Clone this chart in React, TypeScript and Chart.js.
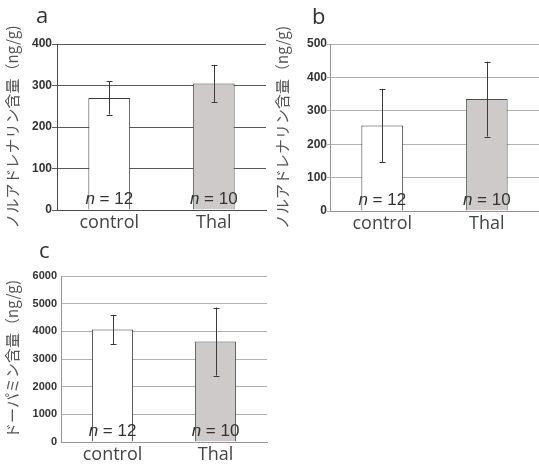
import React, { useEffect, useRef } from "react";
import { Chart, registerables } from "chart.js";
Chart.register(...registerables);

const categories = ["control", "Thal"];
const sampleSizes = ["12", "10"];

const panelAValues = [270, 305];
const panelAErrors = [40, 45];
const panelATicksMax = 400;
const panelATicksStep = 100;

const panelBValues = [256, 335];
const panelBErrors = [110, 112];
const panelBTicksMax = 500;
const panelBTicksStep = 100;

const panelCValues = [4070, 3630];
const panelCErrors = [530, 1230];
const panelCTicksMax = 6000;
const panelCTicksStep = 1000;

const titleNA = "ノルアドレナリン含量（ng/g)";
const titleDA = "ドーパミン含量（ng/g)";

const overlayPlugin = {
  id: "overlay",
  afterDatasetsDraw(chart: any, _args: any, opts: any) {
    const { ctx } = chart;
    const meta = chart.getDatasetMeta(0);
    const ys = chart.scales.y;
    const data = chart.data.datasets[0].data as number[];
    const errs: number[] = opts.errors;
    const bottom = chart.chartArea.bottom;
    meta.data.forEach((bar: any, i: number) => {
      const v = data[i];
      const top = ys.getPixelForValue(v + errs[i]);
      const bot = ys.getPixelForValue(v - errs[i]);
      const x = Math.round(bar.x) + 0.5;
      ctx.save();
      ctx.strokeStyle = "#3a3a3a";
      ctx.lineWidth = 1;
      ctx.beginPath();
      ctx.moveTo(x, top);
      ctx.lineTo(x, bot);
      ctx.moveTo(x - 3, Math.round(top) + 0.5);
      ctx.lineTo(x + 3, Math.round(top) + 0.5);
      ctx.moveTo(x - 3, Math.round(bot) + 0.5);
      ctx.lineTo(x + 3, Math.round(bot) + 0.5);
      ctx.stroke();
      // n label
      const fam = "'Liberation Sans', Arial, sans-serif";
      const italicFont = `italic 17px ${fam}`;
      const normalFont = `17px ${fam}`;
      ctx.font = italicFont;
      const w1 = ctx.measureText("n").width;
      ctx.font = normalFont;
      const rest = " = " + sampleSizes[i];
      const w2 = ctx.measureText(rest).width;
      const start = bar.x - (w1 + w2) / 2;
      ctx.fillStyle = "#333";
      ctx.textBaseline = "alphabetic";
      ctx.textAlign = "left";
      ctx.font = italicFont;
      ctx.fillText("n", start, bottom - 6);
      ctx.font = normalFont;
      ctx.fillText(rest, start + w1, bottom - 6);
      ctx.restore();
    });
  },
};

type PanelProps = {
  left: number;
  top: number;
  width: number;
  height: number;
  values: number[];
  errors: number[];
  max: number;
  step: number;
  title: string;
  yWidth: number;
  xHeight: number;
  padTop: number;
  padRight: number;
  gridColor: string;
  axisColor: string;
  tickLength: number;
  tickPadding: number;
  tickFontSize: number;
};

function Panel(p: PanelProps) {
  const ref = useRef<HTMLCanvasElement>(null);
  useEffect(() => {
    if (!ref.current) return;
    const chart = new Chart(ref.current, {
      type: "bar",
      data: {
        labels: categories,
        datasets: [
          {
            data: p.values,
            backgroundColor: ["#ffffff", "#cfcaca"],
            borderColor: ["#3a3a3a", "#4a4a4a"],
            borderWidth: 1,
            categoryPercentage: 1,
            barPercentage: 0.4,
          },
        ],
      },
      options: {
        responsive: false,
        animation: false,
        layout: { padding: { top: p.padTop, right: p.padRight, left: 0, bottom: 0 } },
        plugins: {
          legend: { display: false },
          tooltip: { enabled: false },
          overlay: { errors: p.errors },
        } as any,
        scales: {
          x: {
            grid: { display: false, drawTicks: false },
            border: { display: true, color: p.axisColor, width: 1 },
            ticks: {
              color: "#444",
              font: { family: "'Open Sans', sans-serif", size: 18 },
              padding: 2,
            },
            afterFit: (s: any) => {
              s.height = p.xHeight;
            },
          },
          y: {
            min: 0,
            max: p.max,
            grid: {
              color: p.gridColor,
              lineWidth: 1,
              drawTicks: p.tickLength > 0,
              tickLength: p.tickLength,
            },
            border: { display: true, color: p.axisColor, width: 1 },
            ticks: {
              stepSize: p.step,
              color: "#333",
              padding: p.tickPadding,
              font: { family: "'Liberation Sans', Arial, sans-serif", size: p.tickFontSize, weight: "bold" },
              callback: (v: any) => String(v),
            },
            title: {
              display: true,
              text: p.title,
              color: "#555",
              font: { family: "'Noto Sans CJK JP', sans-serif", size: 15 },
              padding: { top: 3, bottom: 0 },
            },
            afterFit: (s: any) => {
              s.width = p.yWidth;
            },
          },
        },
      },
      plugins: [overlayPlugin],
    });
    return () => chart.destroy();
  }, []);
  return (
    <canvas
      ref={ref}
      width={p.width}
      height={p.height}
      style={{ position: "absolute", left: p.left, top: p.top, display: "block" }}
    />
  );
}

const letterStyle: React.CSSProperties = {
  position: "absolute",
  fontFamily: "'Open Sans', sans-serif",
  fontSize: 22,
  lineHeight: "22px",
  color: "#333",
};

export default function App() {
  return (
    <div style={{ position: "absolute", left: 0, top: 0, width: 539, height: 467, background: "#fff" }}>
      <Panel
        left={0}
        top={0}
        width={270}
        height={240}
        values={panelAValues}
        errors={panelAErrors}
        max={panelATicksMax}
        step={panelATicksStep}
        title={titleNA}
        yWidth={57}
        xHeight={30}
        padTop={44}
        padRight={4}
        gridColor="#5a5a5a"
        axisColor="#4a4a4a"
        tickLength={5}
        tickPadding={0}
        tickFontSize={12}
      />
      <Panel
        left={270}
        top={0}
        width={269}
        height={240}
        values={panelBValues}
        errors={panelBErrors}
        max={panelBTicksMax}
        step={panelBTicksStep}
        title={titleNA}
        yWidth={60}
        xHeight={29}
        padTop={44}
        padRight={0}
        gridColor="#b5b0b0"
        axisColor="#9a9595"
        tickLength={3}
        tickPadding={0}
        tickFontSize={12}
      />
      <Panel
        left={0}
        top={240}
        width={270}
        height={227}
        values={panelCValues}
        errors={panelCErrors}
        max={panelCTicksMax}
        step={panelCTicksStep}
        title={titleDA}
        yWidth={61}
        xHeight={25}
        padTop={36}
        padRight={3}
        gridColor="#b5b0b0"
        axisColor="#9a9595"
        tickLength={0}
        tickPadding={4}
        tickFontSize={11}
      />
      <div style={{ ...letterStyle, left: 36, top: 3 }}>a</div>
      <div style={{ ...letterStyle, left: 312, top: 4 }}>b</div>
      <div style={{ ...letterStyle, left: 39, top: 238 }}>c</div>
    </div>
  );
}
